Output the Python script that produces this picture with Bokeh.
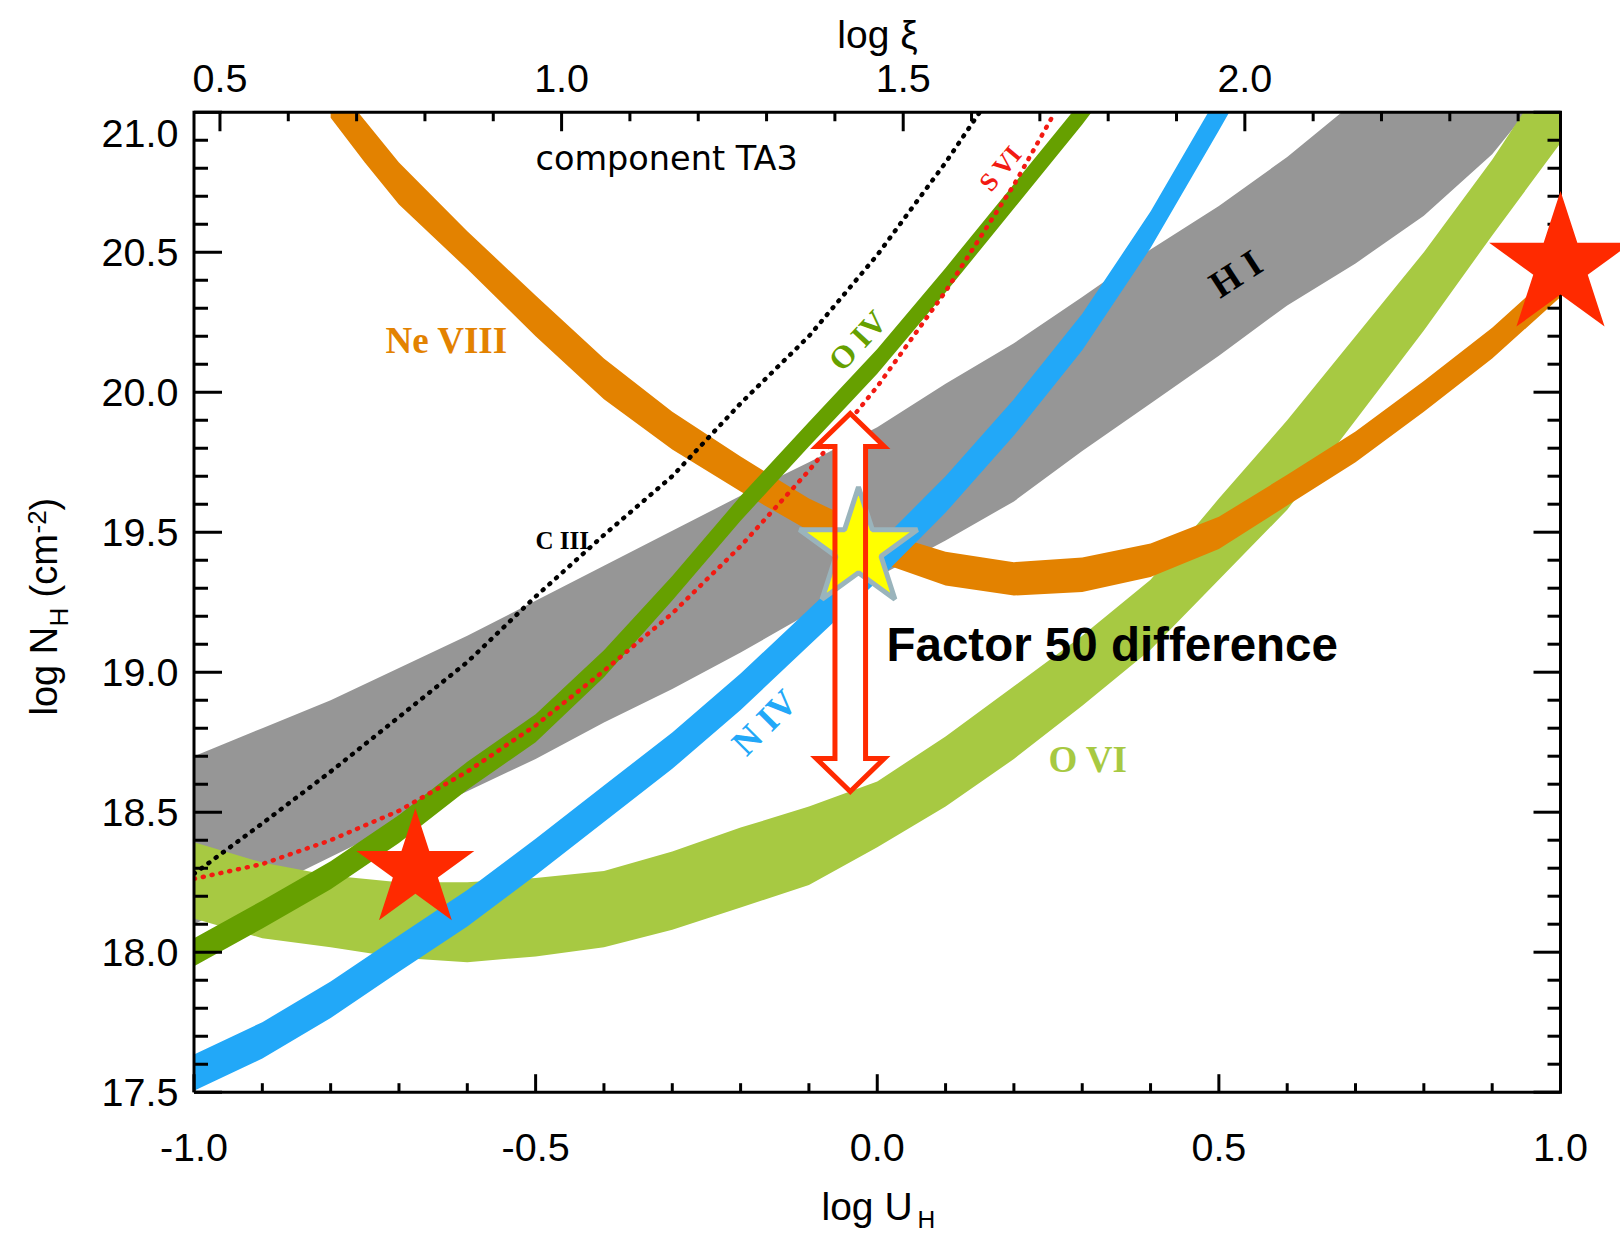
import math
from bokeh.plotting import figure
from bokeh.models import Range1d, Label
from bokeh.core.properties import value
from bokeh.embed import file_html
from bokeh.resources import INLINE

# ---------------- data ----------------
u_band = [-1.0, -0.9, -0.8, -0.7, -0.6, -0.5, -0.4, -0.3, -0.2, -0.1, 0.0,
          0.1, 0.2, 0.3, 0.4, 0.5, 0.6, 0.7, 0.8, 0.9, 1.0]
hi_low = [18.10, 18.22, 18.34, 18.46, 18.575, 18.69, 18.82, 18.94, 19.07, 19.21, 19.34,
          19.47, 19.61, 19.79, 19.96, 20.13, 20.31, 20.46, 20.63, 20.85, 21.15]
hi_high = [18.70, 18.80, 18.90, 19.015, 19.13, 19.255, 19.38, 19.505, 19.63, 19.75, 19.875,
           20.03, 20.175, 20.34, 20.51, 20.665, 20.84, 21.04, 21.22, 21.40, 21.60]
ovi_low = [18.12, 18.05, 18.018, 17.98, 17.964, 17.985, 18.018, 18.08, 18.16, 18.24, 18.375,
           18.52, 18.69, 18.88, 19.08, 19.33, 19.58, 19.90, 20.22, 20.56, 20.89]
ovi_high = [18.393, 18.32, 18.274, 18.25, 18.25, 18.265, 18.29, 18.36, 18.445, 18.52, 18.61,
            18.77, 18.95, 19.13, 19.33, 19.62, 19.90, 20.20, 20.50, 20.83, 21.20]

u_neviii = [-0.8, -0.75, -0.7, -0.6, -0.5, -0.4, -0.3, -0.2, -0.1, 0.0,
            0.1, 0.2, 0.3, 0.4, 0.5, 0.6, 0.7, 0.8, 0.9, 1.0]
neviii_low = [20.98, 20.82, 20.67, 20.44, 20.20, 19.975, 19.795, 19.645, 19.505, 19.395,
              19.31, 19.274, 19.286, 19.34, 19.44, 19.595, 19.75, 19.93, 20.12, 20.34]
neviii_high = [21.12, 20.97, 20.82, 20.575, 20.345, 20.12, 19.93, 19.77, 19.62, 19.505,
               19.43, 19.393, 19.41, 19.46, 19.555, 19.705, 19.86, 20.04, 20.23, 20.45]

u_oiv = [-1.0, -0.9, -0.8, -0.7, -0.6, -0.5, -0.4, -0.3, -0.2, -0.1, 0.0, 0.1, 0.2, 0.3, 0.32]
oiv_low = [17.95, 18.085, 18.225, 18.39, 18.58, 18.75, 18.982, 19.256, 19.541, 19.806,
           20.066, 20.356, 20.656, 20.956, 21.02]
oiv_high = [18.05, 18.185, 18.325, 18.49, 18.68, 18.85, 19.078, 19.344, 19.629, 19.894,
            20.154, 20.444, 20.744, 21.044, 21.11]

u_niv = [-1.0, -0.9, -0.8, -0.7, -0.6, -0.5, -0.4, -0.3, -0.2, -0.1, 0.0, 0.1, 0.2, 0.3, 0.4, 0.5, 0.52]
niv_low = [17.505, 17.62, 17.765, 17.93, 18.092, 18.275, 18.465, 18.655, 18.865, 19.095,
           19.325, 19.57, 19.845, 20.15, 20.515, 20.935, 21.02]
niv_high = [17.635, 17.75, 17.895, 18.06, 18.222, 18.405, 18.595, 18.785, 18.995, 19.225,
            19.455, 19.70, 19.975, 20.28, 20.645, 21.065, 21.15]

u_ciii = [-1.0, -0.9, -0.8, -0.7, -0.6, -0.5, -0.4, -0.3, -0.2, -0.1, 0.0, 0.1, 0.15]
ciii = [18.28, 18.46, 18.645, 18.84, 19.036, 19.27, 19.49, 19.70, 19.96, 20.20, 20.49, 20.82, 21.0]

u_svi = [-1.0, -0.9, -0.8, -0.7, -0.6, -0.5, -0.4, -0.3, -0.2, -0.1, 0.0, 0.1, 0.2, 0.26]
svi = [18.262, 18.315, 18.40, 18.505, 18.645, 18.81, 19.005, 19.21, 19.45, 19.72, 20.02, 20.36, 20.74, 21.0]

red_star_u = [-0.676, 1.0]
red_star_n = [18.293, 20.451]
red_star_size = [124, 150]
yellow_star_u = [-0.0275]
yellow_star_n = [19.44]

arrow_u = -0.0395
arrow_top = 19.924
arrow_bottom = 18.574

x_major = [-1.0, -0.5, 0.0, 0.5, 1.0]
x_minor = [-0.9, -0.8, -0.7, -0.6, -0.4, -0.3, -0.2, -0.1, 0.1, 0.2, 0.3, 0.4, 0.6, 0.7, 0.8, 0.9]
y_major = [17.5, 18.0, 18.5, 19.0, 19.5, 20.0, 20.5, 21.0]
y_minor = [17.6, 17.7, 17.8, 17.9, 18.1, 18.2, 18.3, 18.4, 18.6, 18.7, 18.8, 18.9,
           19.1, 19.2, 19.3, 19.4, 19.6, 19.7, 19.8, 19.9, 20.1, 20.2, 20.3, 20.4,
           20.6, 20.7, 20.8, 20.9]
xi_major = [0.5, 1.0, 1.5, 2.0]
xi_minor = [0.6, 0.7, 0.8, 0.9, 1.1, 1.2, 1.3, 1.4, 1.6, 1.7, 1.8, 1.9, 2.1, 2.2, 2.3, 2.4]
xi_offset = 1.462   # log xi = log U + offset

# ---------------- colours ----------------
C_GRAY = "#969696"
C_OVI = "#A7C942"
C_ORANGE = "#E38200"
C_OIV = "#66A000"
C_BLUE = "#22A8F8"
C_RED = "#FF2A00"
C_DOTRED = "#F21A12"

# ---------------- geometry (page pixels -> data) ----------------
FIG_W, FIG_H = 1620, 1234
BOX_L, BOX_R, BOX_T, BOX_B = 193.5, 1560.0, 111.7, 1091.7
XU0, XU1, YN0, YN1 = -1.0, 1.0, 17.5, 21.0
XPX = (BOX_R - BOX_L) / (XU1 - XU0)
YPX = (BOX_B - BOX_T) / (YN1 - YN0)


def ux(xp):
    return XU0 + (xp - BOX_L) / XPX


def ny(yp):
    return YN1 - (yp - BOX_T) / YPX


XS, XE = ux(0), ux(FIG_W)
YS, YE = ny(FIG_H), ny(0)

p = figure(width=FIG_W, height=FIG_H, x_range=Range1d(XS, XE), y_range=Range1d(YS, YE),
           output_backend="svg", toolbar_location=None,
           x_axis_location=None, y_axis_location=None,
           min_border=0)
p.outline_line_color = None
p.background_fill_color = "white"
p.border_fill_color = "white"
p.grid.visible = False

# keep everything drawn well inside the canvas (the box clips it anyway)
CAP = YN1 + 0.3
hi_high_drawn = [min(v, CAP) for v in hi_high]

# ---------------- bands ----------------
p.varea(x=u_band, y1=hi_low, y2=hi_high_drawn, fill_color=C_GRAY)
p.varea(x=u_band, y1=ovi_low, y2=ovi_high, fill_color=C_OVI)
p.varea(x=u_neviii, y1=neviii_low, y2=neviii_high, fill_color=C_ORANGE)
p.varea(x=u_oiv, y1=oiv_low, y2=oiv_high, fill_color=C_OIV)
p.varea(x=u_niv, y1=niv_low, y2=niv_high, fill_color=C_BLUE)

p.line(u_ciii, ciii, line_color="black", line_width=4.5, line_dash="1 8", line_cap="round")
p.line(u_svi, svi, line_color=C_DOTRED, line_width=4.5, line_dash="1 8", line_cap="round")

# white masks outside the plot box (the box clips the bands)
p.quad(left=[XS, XS, XS], right=[XE, XE, XU0],
       bottom=[YN1, YS, YN0], top=[YE, YN0, YN1],
       fill_color="white", line_color=None)

# ---------------- plot box and ticks ----------------
p.line([XU0, XU1, XU1, XU0, XU0], [YN0, YN0, YN1, YN1, YN0], line_color="black",
       line_width=3, line_join="miter")


def ticks(x0, y0, x1, y1):
    p.segment(x0=x0, y0=y0, x1=x1, y1=y1, line_color="black", line_width=3)


nxm, nxn = len(x_major), len(x_minor)
ticks(x_major, [YN0] * nxm, x_major, [YN0 + 18 / YPX] * nxm)
ticks(x_minor, [YN0] * nxn, x_minor, [YN0 + 9 / YPX] * nxn)
xi_major_u = [v - xi_offset for v in xi_major]
xi_minor_u = [v - xi_offset for v in xi_minor]
ticks(xi_major_u, [YN1] * len(xi_major_u), xi_major_u, [YN1 - 19 / YPX] * len(xi_major_u))
ticks(xi_minor_u, [YN1] * len(xi_minor_u), xi_minor_u, [YN1 - 9 / YPX] * len(xi_minor_u))
nym, nyn = len(y_major), len(y_minor)
ticks([XU0] * nym, y_major, [XU0 + 28 / XPX] * nym, y_major)
ticks([XU0] * nyn, y_minor, [XU0 + 14 / XPX] * nyn, y_minor)
ticks([XU1] * nym, y_major, [XU1 - 27 / XPX] * nym, y_major)
ticks([XU1] * nyn, y_minor, [XU1 - 13 / XPX] * nyn, y_minor)

# tick labels
TF = "Liberation Sans"
p.text(x=x_major, y=[ny(1146.5)] * nxm, text=[f"{v:.1f}" for v in x_major],
       text_font=value(TF), text_font_size=value("39.5px"), text_color="black",
       text_align="center", text_baseline="middle")
p.text(x=xi_major_u, y=[ny(77.7)] * len(xi_major), text=[f"{v:.1f}" for v in xi_major],
       text_font=value(TF), text_font_size=value("39.5px"), text_color="black",
       text_align="center", text_baseline="middle")
y_lab = y_major[:-1]
p.text(x=[ux(178)] * len(y_lab), y=y_lab, text=[f"{v:.1f}" for v in y_lab],
       text_font=value(TF), text_font_size=value("39.5px"), text_color="black",
       text_align="right", text_baseline="middle")

# ---------------- stars & arrow ----------------
p.scatter(red_star_u, red_star_n, marker="star", size=red_star_size,
          fill_color=C_RED, line_color=None)

hw_h, hw_s, hl = 34 / XPX, 15.3 / XPX, 33 / YPX
a = arrow_u
arr_x = [a, a + hw_h, a + hw_s, a + hw_s, a + hw_h, a, a - hw_h, a - hw_s, a - hw_s, a - hw_h]
arr_y = [arrow_top, arrow_top - hl, arrow_top - hl, arrow_bottom + hl, arrow_bottom + hl,
         arrow_bottom, arrow_bottom + hl, arrow_bottom + hl, arrow_top - hl, arrow_top - hl]
p.patch(arr_x, arr_y, fill_color="white", line_color=None)
p.scatter(yellow_star_u, yellow_star_n, marker="star", size=124,
          fill_color="#FFFF00", line_color="#9AB4BC", line_width=5)
p.patch(arr_x, arr_y, fill_color=None, line_color=C_RED, line_width=5, line_join="miter")


# ---------------- texts ----------------
def lab(text, xp, yp, size, color="black", font="Liberation Sans", style="normal",
        align="left", baseline="middle", angle=0.0):
    p.add_layout(Label(x=ux(xp), y=ny(yp), text=text, text_font=font,
                       text_font_size=f"{size}px", text_font_style=style, text_color=color,
                       text_align=align, text_baseline=baseline, angle=angle))


lab(f"{y_major[-1]:.1f}", 178, 132.6, 39.5, align="right")
lab("log ξ", 877, 34, 39, align="center")
lab("log U", 821, 1206, 39)
lab("H", 917, 1219, 24.5)

# rotated y label pieces (reading upwards): text, start y, size, centre x
pieces = [("log N", 715, 38, 43.8), ("H", 626, 26, 58.0), ("(cm", 597, 38, 43.8),
          ("-2", 533, 26, 36.0), (")", 510, 38, 43.8)]
for txt, ystart, sz, xc in pieces:
    lab(txt, xc, ystart, sz, angle=math.pi / 2)

lab("component TA3", 535, 158.4, 33.5, font="DejaVu Sans")
lab("Factor 50 difference", 886, 643.5, 47.5, style="bold")

SERIF = "Liberation Serif"
lab("Ne VIII", 385, 340, 37, color=C_ORANGE, font=SERIF, style="bold")
lab("C III", 535, 540, 25, font=SERIF, style="bold")
lab("O VI", 1048, 759, 37, color=C_OVI, font=SERIF, style="bold")
lab("O IV", 857, 340, 32, color=C_OIV, font=SERIF, style="bold", align="center",
    angle=math.radians(47))
lab("S VI", 1000, 168, 26, color=C_DOTRED, font=SERIF, style="bold", align="center",
    angle=math.radians(50))
lab("H I", 1235, 273, 38, font=SERIF, style="bold", align="center",
    angle=math.radians(33))
lab("N IV", 764, 722, 36, color=C_BLUE, font=SERIF, style="bold", align="center",
    angle=math.radians(45))

open("out.html", "w").write(file_html(p, INLINE))
